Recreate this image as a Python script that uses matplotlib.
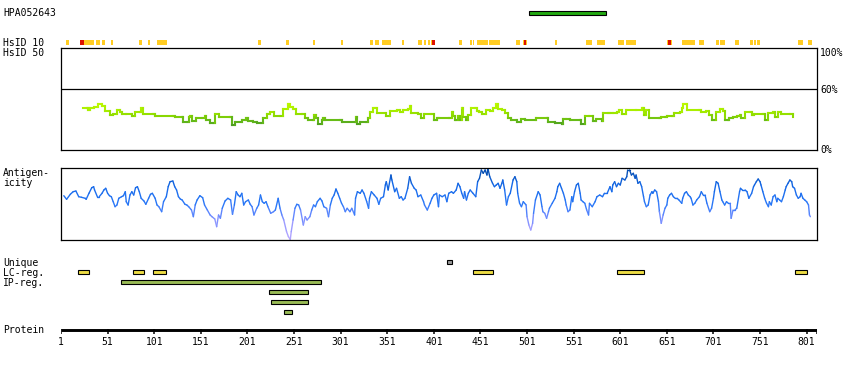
import matplotlib
matplotlib.use('Agg')
import matplotlib.pyplot as plt
import numpy as np
from matplotlib.collections import LineCollection
from matplotlib.colors import LinearSegmentedColormap, Normalize

# ---------------- data ----------------
antibody_name = "HPA052643"
protein_length = 812
antigen_region = (503, 585)
tick_labels = [1, 51, 101, 151, 201, 251, 301, 351, 401, 451, 501, 551, 601, 651, 701, 751, 801]

hsid10_yellow_start = [7, 26, 39, 45, 55, 85, 95, 104, 110, 213, 243, 272, 302, 333, 338, 346, 367, 384, 391, 395,
                       398, 428, 440, 443, 448, 461, 465, 490, 497, 500, 531, 565, 568, 577, 599, 608, 652, 656,
                       668, 679, 686, 704, 709, 725, 741, 745, 748, 792, 803]
hsid10_yellow_end = [9, 36, 42, 48, 56, 87, 96, 109, 114, 215, 245, 273, 303, 335, 342, 355, 368, 388, 392, 396,
                     399, 431, 441, 444, 459, 464, 472, 493, 497, 501, 533, 567, 570, 584, 604, 617, 652, 656,
                     677, 681, 690, 706, 713, 728, 743, 746, 750, 797, 806]
hsid10_red_start = [22, 400, 498, 653]
hsid10_red_end = [25, 402, 499, 655]

identity_res = [25, 29, 30, 32, 36, 41, 45, 48, 54, 57, 61, 64, 66, 71, 77, 80, 86, 87, 89, 100, 102, 121, 123, 131,
                132, 136, 138, 139, 142, 146, 152, 155, 157, 161, 164, 166, 170, 182, 184, 188, 195, 200, 202, 207,
                211, 216, 218, 222, 225, 229, 230, 236, 239, 245,
                247, 250, 253, 260, 263, 266, 271, 272, 275, 277, 281, 282, 284, 300, 302, 316, 317, 319, 322, 328,
                330, 332, 336, 338, 340, 350, 354, 361, 365, 368, 373, 375, 376, 384, 387, 390, 398, 401, 404, 407,
                417, 420, 422, 424, 425, 427, 429, 431, 432, 436, 438, 441, 445, 447, 450, 453, 457, 461, 465, 468,
                470, 474, 477, 481, 484, 490, 495, 499, 511, 522, 524, 531, 538, 540, 543, 547, 558, 559, 563, 568,
                572, 575, 581, 583, 588,
                590, 593, 597, 600, 603, 607, 618, 624, 625, 627, 629, 632, 643, 645, 649, 651, 656, 659, 665, 667,
                668, 671, 673, 686, 688, 693, 696, 699, 702, 704, 708, 711, 713, 717, 718, 722, 726, 729, 731, 735,
                740, 742, 745, 754, 756, 760, 765, 767, 770, 774, 783, 786]
identity_pct = [40.9, 40.9, 39.2, 40.9, 42.5, 45.1, 43.5, 38.2, 34.3, 35.3, 39.2, 37.5, 35.3, 35.3, 33.3, 37.5, 37.5,
                40.9, 35.3, 35.3, 33.3, 33.3, 32.0, 32.0, 27.8, 27.8, 32.0, 33.3, 28.8, 31.0, 31.0, 33.3, 29.4, 26.8,
                26.8, 35.3, 32.0, 32.0, 24.5, 27.8, 29.4, 31.0, 28.8, 27.8, 26.1, 26.1, 31.0, 35.3, 37.5, 37.5, 33.3,
                33.3, 39.9, 45.1,
                42.5, 40.1, 35.0, 35.0, 31.0, 29.4, 29.4, 34.3, 31.0, 25.2, 29.4, 31.0, 29.4, 29.4, 27.2, 27.2, 32.0,
                25.2, 27.2, 27.2, 31.6, 37.6, 40.9, 41.5, 35.9, 33.6, 38.2, 39.2, 37.6, 39.2, 40.1, 43.5, 35.9, 35.0,
                31.0, 35.0, 35.0, 29.4, 31.0, 31.6, 31.6, 36.9, 33.6, 29.4, 29.4, 33.6, 29.4, 41.5, 32.6, 29.4, 34.3,
                41.5, 40.9, 38.2, 37.6, 35.0, 39.2, 38.2, 40.9, 45.1, 39.8, 39.2, 35.9, 31.0, 29.4, 27.8, 30.4, 29.4,
                31.6, 31.6, 27.8, 26.1, 25.2, 30.4, 30.4, 29.4, 29.4, 25.2, 33.6, 33.6, 28.4, 30.4, 28.4, 35.9, 35.9,
                36.0, 36.6, 37.5, 39.2, 35.3, 39.2, 39.2, 40.9, 40.9, 34.3, 39.2, 31.0, 31.0, 32.7, 32.0, 33.3, 33.3,
                36.0, 37.5, 40.9, 45.1, 45.1, 39.2, 39.2, 37.5, 38.2, 34.3, 29.4, 29.4, 37.5, 39.9, 38.5, 29.4, 29.4,
                31.0, 32.0, 33.3, 34.3, 31.0, 37.5, 37.5, 34.3, 35.3, 35.3, 29.4, 36.6, 37.5, 32.7, 37.5, 35.3, 35.3,
                32.7]

antigenicity_res = [4, 7, 11, 14, 17, 20, 23, 27, 28, 31, 34, 36, 37, 40, 42, 45, 47, 49, 51, 53, 55, 57, 59, 61, 63,
                    66, 68, 70, 71, 73, 75, 77, 79, 81, 83, 85, 87, 90, 92, 95, 97, 99, 102, 104, 106, 109, 111, 114,
                    116, 118, 121, 123, 125, 127, 129, 131, 134, 136, 138, 141, 143, 145, 147, 150, 153, 155, 158, 161,
                    163, 166, 168, 170, 172, 174, 177, 180, 183, 185, 187, 189, 191, 193, 195, 197, 199, 202,
                    204, 206, 208, 211, 213, 215, 217, 219, 221, 223, 226, 229, 231, 234, 236, 238, 240, 243, 245, 247,
                    248, 250, 252, 254, 256, 258, 261, 263, 265, 268, 270, 272, 274, 276, 279, 281, 283, 286, 288, 290,
                    292, 294, 296, 298, 300, 302, 304, 306, 308, 311, 313, 316, 317, 319, 322, 324, 326, 329, 331, 332,
                    334, 337, 340, 342, 344, 347, 349, 350, 352, 355, 356, 359, 361, 364, 366, 368, 370, 373, 375, 377,
                    380, 382, 384, 387, 390, 391, 394, 397, 399, 401, 404, 406, 407, 410, 413,
                    415, 417, 420, 422, 425, 427, 429, 431, 433, 434, 436, 438, 440, 443, 446, 448, 450, 452, 454, 456,
                    458, 459, 461, 464, 466, 468, 470, 472, 474, 475, 477, 479, 481, 483, 486, 488, 490, 491, 493, 495,
                    497, 500, 501, 503, 505, 507, 508, 510, 513, 515, 517, 518, 520, 522, 524, 525, 528, 531, 533, 534,
                    536, 538, 540, 542, 543, 545, 547, 549, 550, 552, 554, 556, 558, 559, 561, 563, 565, 567, 568, 571,
                    574, 576, 579, 582, 584, 587, 590, 592, 593, 595, 597, 599, 601, 603, 606, 608, 609, 611, 613, 615,
                    617, 618, 620, 622, 624, 626, 627, 629, 631, 633,
                    635, 636, 638, 640, 642, 643, 645, 647, 649, 651, 652, 654, 656, 658, 660, 662, 664, 667, 668, 670,
                    672, 674, 676, 677, 679, 681, 683, 686, 688, 690, 692, 694, 697, 699, 701, 702, 704, 706, 708, 710,
                    711, 713, 715, 717, 719, 720, 722, 724, 726, 729, 730, 732, 735, 737, 739, 742, 744, 745, 747, 749,
                    751, 752, 754, 756, 758, 760, 761, 763, 765, 767, 769, 770, 772, 774, 776, 778, 779, 781, 783, 785,
                    786, 788, 790, 792, 794, 795, 797, 799, 801, 803, 804, 805]
antigenicity_val = [44.3, 40.7, 45.7, 48.3, 49.0, 43.3, 42.7, 41.7, 40.7, 46.7, 52.3, 53.3, 50.0, 43.3, 43.3, 46.7,
                    50.0, 51.7, 46.7, 44.3, 43.3, 38.3, 33.3, 35.0, 41.7, 43.3, 44.3, 48.3, 38.3, 35.0, 45.0, 48.3,
                    45.0, 52.3, 53.3, 48.3, 41.7, 39.0, 35.7, 41.7, 45.7, 46.7, 41.7, 35.0, 33.3, 28.3, 38.3, 43.3,
                    53.3, 58.3, 59.0, 53.3, 50.0, 43.3, 41.0, 40.0, 35.7, 35.0, 33.3, 30.0, 23.3, 35.0, 40.0, 44.3,
                    42.3, 35.0, 30.0, 25.0, 23.3, 21.0, 13.3, 25.0, 21.7, 31.7, 39.0, 41.7, 40.0, 25.7, 35.0, 48.3,
                    45.0, 43.3, 46.7, 35.0, 38.3, 40.0,
                    35.7, 33.3, 25.0, 31.7, 35.0, 45.0, 38.3, 36.7, 38.3, 33.3, 26.7, 28.3, 30.0, 41.7, 31.7, 25.0,
                    20.0, 8.3, 3.3, 0.5, 8.3, 20.0, 31.7, 35.7, 35.0, 30.0, 15.0, 23.3, 20.0, 23.3, 30.0, 35.0, 33.3,
                    38.3, 41.7, 39.0, 33.3, 31.7, 23.3, 35.0, 41.7, 45.0, 51.0, 46.7, 41.7, 36.7, 33.3, 28.3, 31.7,
                    28.3, 31.7, 25.0, 41.7, 48.3, 46.7, 50.0, 46.7, 38.3, 31.7, 41.7, 48.3, 45.0, 41.7, 35.7, 41.7,
                    43.3, 55.0, 58.3, 50.0, 65.0, 60.0, 48.3, 51.7, 41.7, 43.3, 40.0, 41.7, 51.7, 63.3, 56.7, 51.7,
                    50.0, 43.3, 45.0, 38.3, 35.0, 30.0, 36.7, 41.7, 45.0, 46.7, 33.3, 45.0, 43.3, 45.0,
                    38.3, 46.7, 48.3, 46.7, 50.0, 56.7, 53.3, 46.7, 41.7, 48.3, 40.0, 46.7, 50.0, 46.7, 43.3, 58.3,
                    61.7, 70.0, 66.7, 70.0, 65.0, 71.7, 63.3, 56.7, 53.3, 55.0, 56.7, 51.7, 56.7, 60.0, 50.0, 35.0,
                    43.3, 46.7, 60.0, 63.3, 58.3, 46.7, 36.7, 33.3, 38.3, 35.0, 23.3, 15.0, 10.0, 16.7, 26.7, 40.0,
                    48.3, 45.0, 33.3, 28.3, 26.7, 21.7, 28.3, 31.7, 36.7, 41.7, 48.3, 53.3, 56.7, 51.7, 46.7, 40.0,
                    35.0, 28.3, 30.0, 43.3, 38.3, 48.3, 55.0, 56.7, 46.7, 40.0, 38.3, 36.7, 30.0, 25.0, 36.7, 33.3,
                    38.3, 43.3, 45.0, 43.3, 46.7, 46.7, 53.3, 48.3, 55.0, 58.3, 53.3, 56.7, 55.0, 61.7, 60.0, 63.3,
                    70.0, 70.0, 65.0, 66.7, 61.7, 65.0, 56.7, 58.3, 53.3, 43.3, 38.3, 33.3, 35.0, 45.0,
                    48.3, 46.7, 50.0, 48.3, 38.3, 28.3, 16.7, 25.0, 31.7, 35.0, 41.7, 45.0, 46.7, 43.3, 41.7, 41.7,
                    40.0, 36.7, 41.7, 46.7, 48.3, 45.0, 43.3, 41.7, 35.0, 36.7, 40.0, 43.3, 48.3, 45.0, 45.0, 36.7,
                    28.3, 31.7, 41.7, 48.3, 58.3, 56.7, 48.3, 40.0, 38.3, 35.0, 38.3, 36.7, 36.7, 21.7, 30.0, 30.0,
                    31.7, 48.3, 51.7, 50.0, 50.0, 48.3, 41.7, 46.7, 53.3, 55.0, 58.3, 61.0, 58.3, 55.0, 48.3, 41.7,
                    36.7, 33.3, 38.3, 35.0, 43.3, 45.0, 38.3, 41.7, 40.0, 38.3, 43.3, 50.0, 53.3, 56.7, 60.0, 58.3,
                    53.3, 51.7, 45.0, 41.7, 43.3, 46.7, 41.7, 40.0, 38.3, 35.0, 25.0, 23.3]

unique_region = (415, 420)
lc_start = [19, 78, 100, 443, 598, 789]
lc_end = [31, 90, 114, 464, 627, 801]
ip_start = [65, 224, 226, 240]
ip_end = [280, 266, 266, 249]

# ---------------- layout ----------------
W, H = 850, 370
fig = plt.figure(figsize=(W / 100, H / 100), dpi=100)
FONT = dict(family='DejaVu Sans Mono', fontsize=7, color='black')
X0, X1 = 61, 817
XLIM = (1, protein_length + 0.1)


def px_axes(x0, y0, x1, y1, **kw):
    return fig.add_axes([x0 / W, 1 - y1 / H, (x1 - x0) / W, (y1 - y0) / H], **kw)


def ftext(x, y, s, **kw):
    fig.text(x / W, 1 - y / H, s, va='center', ha=kw.pop('ha', 'left'), **FONT, **kw)


def colored_step_line(ax, x, y, cmap, norm, lw):
    """Step-style line (horizontal then vertical), coloured by value."""
    x = np.asarray(x, float)
    y = np.asarray(y, float)
    segs, vals = [], []
    for i in range(len(x) - 1):
        segs.append([(x[i], y[i]), (x[i + 1], y[i])])
        vals.append(y[i])
        segs.append([(x[i + 1], y[i]), (x[i + 1], y[i + 1])])
        vals.append((y[i] + y[i + 1]) / 2)
    lc = LineCollection(segs, cmap=cmap, norm=norm, linewidths=lw, capstyle='projecting')
    lc.set_array(np.array(vals))
    ax.add_collection(lc)


def colored_line(ax, x, y, cmap, norm, lw):
    x = np.asarray(x, float)
    y = np.asarray(y, float)
    pts = np.column_stack([x, y]).reshape(-1, 1, 2)
    segs = np.concatenate([pts[:-1], pts[1:]], axis=1)
    lc = LineCollection(segs, cmap=cmap, norm=norm, linewidths=lw, capstyle='round', joinstyle='round')
    lc.set_array((y[:-1] + y[1:]) / 2)
    ax.add_collection(lc)


def boxed(ax):
    ax.set_xlim(XLIM)
    ax.set_xticks([])
    ax.set_yticks([])
    for s in ax.spines.values():
        s.set_linewidth(0.9)
        s.set_color('black')


# HsID 50 identity panel
ida = px_axes(X0, 48, X1, 150)
boxed(ida)
ida.set_ylim(0, 100)
ida.axhline(60, color='black', lw=0.9)
id_cmap = LinearSegmentedColormap.from_list(
    'idc', [(0, '#4a9a22'), (0.25, '#66bb18'), (0.45, '#8ad800'), (0.7, '#a8ee00'), (1, '#bbf800')])
colored_step_line(ida, identity_res, identity_pct, id_cmap, Normalize(24, 45), 1.5)

# Antigenicity panel
aga = px_axes(X0, 168, X1, 240)
boxed(aga)
aga.set_ylim(0, 72)
ag_cmap = LinearSegmentedColormap.from_list(
    'agc', [(0, '#b8a8ff'), (0.2, '#9c9cff'), (0.35, '#6688ff'), (0.5, '#2a78f8'),
            (0.75, '#1468e8'), (0.9, '#0a55c0'), (1, '#0048a8')])
colored_line(aga, antigenicity_res, antigenicity_val, ag_cmap, Normalize(0, 72), 1.0)

# Overlay track axes (pixel rows)
ov = px_axes(X0, 0, X1, H)
ov.set_xlim(XLIM)
ov.set_ylim(H, 0)
ov.axis('off')
ov.patch.set_alpha(0)

# antigen bar
ov.barh(12.7, antigen_region[1] - antigen_region[0] + 1, left=antigen_region[0], height=4.3,
        color='#22aa11', edgecolor='black', linewidth=0.8)

# HsID 10 bars
ys, ye = np.array(hsid10_yellow_start), np.array(hsid10_yellow_end)
ov.barh(42.7, ye - ys + 1, left=ys - 0.5, height=5.3, color='#ffcc22', edgecolor='none', linewidth=0)
rs, re = np.array(hsid10_red_start), np.array(hsid10_red_end)
ov.barh(42.7, re - rs + 1, left=rs - 0.5, height=5.3, color='#dd1100', edgecolor='none', linewidth=0)

# unique / LC / IP
ov.barh(262.3, unique_region[1] - unique_region[0] + 1, left=unique_region[0], height=4.3,
        color='#999999', edgecolor='black', linewidth=0.8)
ls_, le_ = np.array(lc_start), np.array(lc_end)
ov.barh(272.3, le_ - ls_, left=ls_, height=4.3, color='#eedd44', edgecolor='black', linewidth=0.8)
ip_rows = [282.3, 292.3, 302.3, 312.3]
for row, s, e in zip(ip_rows, ip_start, ip_end):
    ov.barh(row, e - s, left=s, height=4.3, color='#99bb55', edgecolor='black', linewidth=0.8)

# protein axis
ov.plot([1, protein_length], [329.7, 329.7], color='black', lw=2.1, solid_capstyle='butt')
ov.vlines(tick_labels + [protein_length], 328.5, 333.6, color='black', lw=1.1)
for t in tick_labels:
    ov.text(t, 341.7, str(t), ha='center', va='center', **FONT)

# labels
ftext(3, 13, antibody_name)
ftext(3, 43, 'HsID 10')
ftext(3, 52.5, 'HsID 50')
ftext(820, 52.5, '100%')
ftext(820, 90, '60%')
ftext(820, 150, '0%')
ftext(3, 173, 'Antigen-')
ftext(3, 183, 'icity')
ftext(3, 262.5, 'Unique')
ftext(3, 272.5, 'LC-reg.')
ftext(3, 282.5, 'IP-reg.')
ftext(3, 330, 'Protein')

fig.savefig('out.png', dpi=100)
